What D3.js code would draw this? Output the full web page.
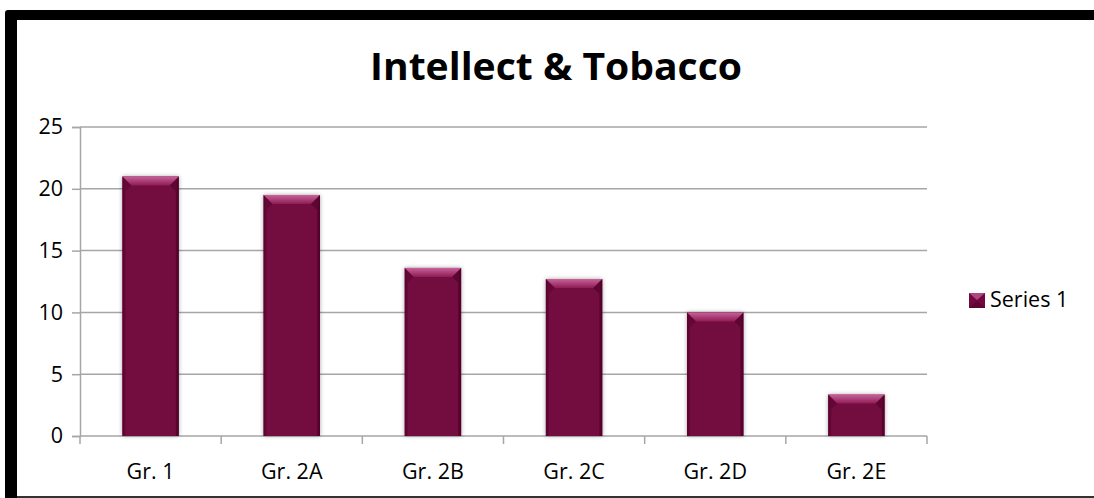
<!DOCTYPE html>
<html><head><meta charset="utf-8">
<script src="https://cdn.jsdelivr.net/npm/d3@7"></script>
<style>
html,body{margin:0;padding:0;background:#fff;}
svg{display:block;}
text{font-family:"Open Sans",Lato,sans-serif;fill:#000;}
</style></head>
<body>
<svg id="chart" width="1094" height="498"></svg>
<script>
const title = "Intellect & Tobacco";
const categories = ["Gr. 1","Gr. 2A","Gr. 2B","Gr. 2C","Gr. 2D","Gr. 2E"];
const values = [21, 19.5, 13.6, 12.7, 10, 3.35];
const seriesName = "Series 1";
const yTicks = [0,5,10,15,20,25];

const svg = d3.select("#chart");
const W = 1094, H = 498;
const FONT = '"Open Sans",Lato,sans-serif';

// frame
svg.append("rect").attr("x",5).attr("y",10).attr("width",W).attr("height",H).attr("rx",3).attr("fill","#000");
svg.append("rect").attr("x",17).attr("y",20).attr("width",W).attr("height",476).attr("fill","#fff");
svg.append("rect").attr("x",17).attr("y",496).attr("width",W).attr("height",2).attr("fill","#333");

const defs = svg.append("defs");
const topG = defs.append("linearGradient").attr("id","topBevel").attr("x1",0).attr("y1",0).attr("x2",0).attr("y2",1);
topG.append("stop").attr("offset","0%").attr("stop-color","#c8629a");
topG.append("stop").attr("offset","100%").attr("stop-color","#8e1c55");
const bodyG = defs.append("linearGradient").attr("id","bodyG").attr("x1",0).attr("y1",0).attr("x2",1).attr("y2",0);
bodyG.append("stop").attr("offset","0%").attr("stop-color","#5e0531");
bodyG.append("stop").attr("offset","6%").attr("stop-color","#73083f");
bodyG.append("stop").attr("offset","94%").attr("stop-color","#73083f");
bodyG.append("stop").attr("offset","100%").attr("stop-color","#5a042e");
const flt = defs.append("filter").attr("id","shadow").attr("x","-20%").attr("y","-20%").attr("width","140%").attr("height","140%");
flt.append("feDropShadow").attr("dx",0).attr("dy",0).attr("stdDeviation",2).attr("flood-color","#000").attr("flood-opacity",0.35);

const x0 = 80, x1 = 927, yTop = 127, yBot = 436;
const x = d3.scaleBand().domain(categories).range([x0,x1]).paddingInner(0.6).paddingOuter(0.3);
const y = d3.scaleLinear().domain([0,25]).range([yBot,yTop]);

// gridlines
svg.append("g").selectAll("line").data(yTicks.filter(d=>d>0)).join("line")
  .attr("x1",x0).attr("x2",x1).attr("y1",d=>y(d)).attr("y2",d=>y(d))
  .attr("stroke","#a6a6a6").attr("stroke-width",1.5);

// y axis
const yAxis = svg.append("g").attr("transform",`translate(${x0},0)`)
  .call(d3.axisLeft(y).tickValues(yTicks).tickSize(8).tickPadding(9));
yAxis.select(".domain").attr("stroke","#a6a6a6").attr("stroke-width",1.5);
yAxis.selectAll(".tick line").attr("stroke","#a6a6a6").attr("stroke-width",1.5);
yAxis.selectAll("text").attr("font-size",21.5).attr("font-family",FONT).attr("fill","#000");

// x axis
const xb = d3.scaleLinear().domain([0,categories.length]).range([x0,x1]);
const xAxisG = svg.append("g");
xAxisG.append("line").attr("x1",x0).attr("x2",x1).attr("y1",yBot).attr("y2",yBot).attr("stroke","#a6a6a6").attr("stroke-width",1.5);
xAxisG.selectAll("line.t").data(d3.range(categories.length+1)).join("line").attr("class","t")
  .attr("x1",d=>xb(d)).attr("x2",d=>xb(d)).attr("y1",yBot).attr("y2",yBot+8)
  .attr("stroke","#a6a6a6").attr("stroke-width",1.5);
xAxisG.selectAll("text").data(categories).join("text")
  .attr("x",d=>x(d)+x.bandwidth()/2).attr("y",479).attr("text-anchor","middle")
  .attr("font-size",21.5).text(d=>d);

// bars
const b = 9, s = 3;
const bars = svg.append("g").selectAll("g").data(categories.map((c,i)=>({c,v:values[i]}))).join("g");
bars.append("rect").attr("x",d=>x(d.c)).attr("y",d=>y(d.v)).attr("width",x.bandwidth())
  .attr("height",d=>yBot-y(d.v)).attr("fill","url(#bodyG)").attr("filter","url(#shadow)");
bars.append("polygon").attr("points",d=>{
  const l=x(d.c), r=l+x.bandwidth(), t=y(d.v);
  return [[l,t],[r,t],[r-b,t+b],[l+b,t+b]].map(p=>p.join(",")).join(" ");
}).attr("fill","url(#topBevel)");
bars.append("polygon").attr("points",d=>{
  const l=x(d.c), t=y(d.v);
  return [[l,t],[l+b,t+b],[l+s,t+b+6],[l+s,yBot],[l,yBot]].map(p=>p.join(",")).join(" ");
}).attr("fill","#5c0430").attr("opacity",0.6);
bars.append("polygon").attr("points",d=>{
  const r=x(d.c)+x.bandwidth(), t=y(d.v);
  return [[r,t],[r-b,t+b],[r-s,t+b+6],[r-s,yBot],[r,yBot]].map(p=>p.join(",")).join(" ");
}).attr("fill","#4e0228").attr("opacity",0.6);

// title
svg.append("text").attr("x",556).attr("y",80).attr("text-anchor","middle")
  .attr("font-size",37).attr("font-weight","bold")
  .attr("textLength",372).attr("lengthAdjust","spacingAndGlyphs").text(title);

// legend
const lg = svg.append("g");
lg.append("rect").attr("x",969).attr("y",293).attr("width",16).attr("height",15).attr("fill","#73083f");
lg.append("polygon").attr("points","969,293 985,293 977,300").attr("fill","#b04880");
lg.append("polygon").attr("points","969,308 985,308 977,301").attr("fill","#5e0531");
lg.append("text").attr("x",990).attr("y",307).attr("font-size",21.5).text(seriesName);
</script>
</body></html>
